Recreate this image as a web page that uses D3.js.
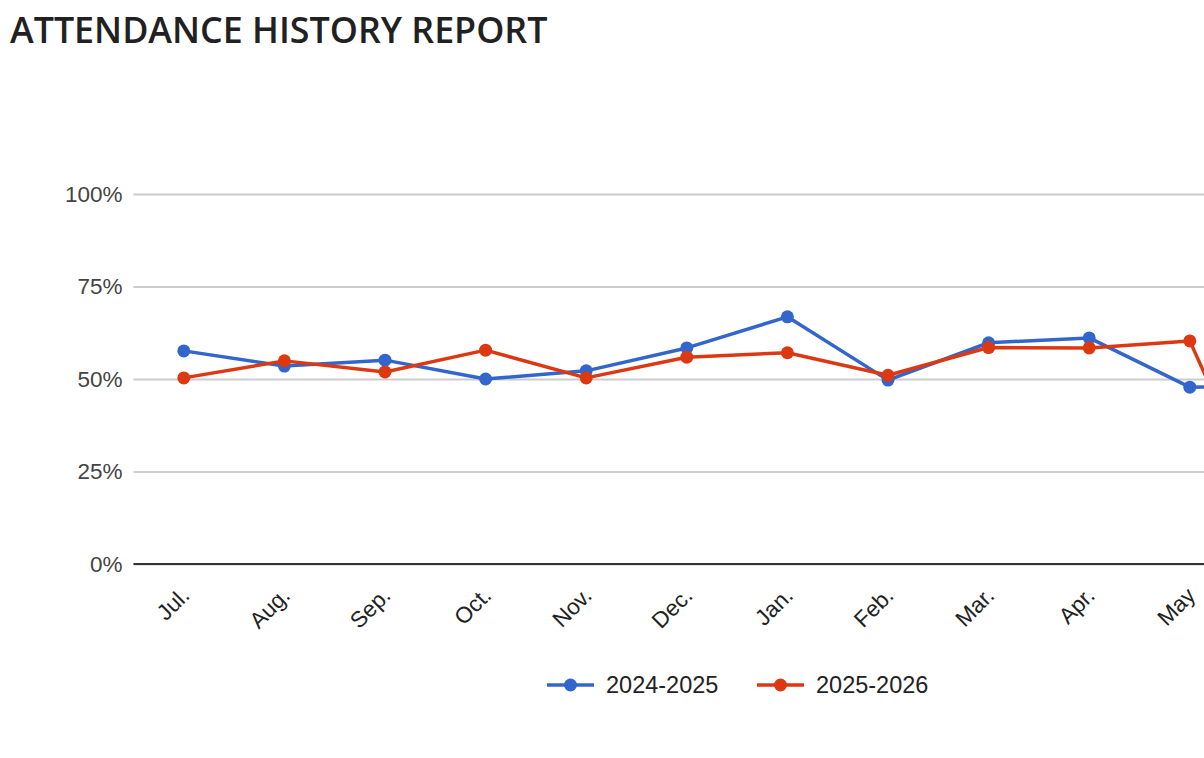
<!DOCTYPE html>
<html>
<head>
<meta charset="utf-8">
<script src="https://cdn.jsdelivr.net/npm/d3@7"></script>
<style>
  body { margin: 0; background: #fff; overflow: hidden; }
  svg { display: block; }
</style>
</head>
<body>
<svg width="1204" height="758"></svg>
<script>
// data (percent)
var months = ["Jul.", "Aug.", "Sep.", "Oct.", "Nov.", "Dec.", "Jan.", "Feb.", "Mar.", "Apr.", "May", "Jun."];
var seriesNames = ["2024-2025", "2025-2026"];
var values2425 = [57.6, 53.5, 55.1, 50.0, 52.2, 58.4, 66.8, 49.7, 59.8, 61.1, 47.8, 48.0];
var values2526 = [50.3, 54.9, 51.9, 57.8, 50.3, 55.9, 57.1, 51.0, 58.5, 58.4, 60.3, 0];
var yTicks = [0, 25, 50, 75, 100];
var colors = ["#3366cc", "#dc3912"];

var svg = d3.select("svg");

// chart area - runs past the right edge of the window like the original
var chartLeft = 133.5, chartTop = 194, chartBottom = 564,
    bandW = 100.6,
    chartRight = chartLeft + bandW * months.length;

var x = d3.scaleBand().domain(months).range([chartLeft, chartRight]);
var y = d3.scaleLinear().domain([0, 100]).range([chartBottom, chartTop]);

svg.append("text")
   .attr("x", 10)
   .attr("y", 43)
   .attr("font-family", "'Open Sans', sans-serif")
   .attr("font-weight", 600)
   .attr("font-size", 35.8)
   .attr("fill", "#212121")
   .text("ATTENDANCE HISTORY REPORT");

// gridlines + y labels
var yAxis = svg.append("g")
   .attr("transform", "translate(" + chartLeft + ",0)")
   .call(d3.axisLeft(y).tickValues(yTicks).tickSize(-(chartRight - chartLeft)).tickPadding(11)
           .tickFormat(function(d) { return d + "%"; }));
yAxis.select(".domain").remove();
yAxis.selectAll(".tick line").attr("stroke", "#cccccc").attr("stroke-width", 2);
yAxis.selectAll(".tick text")
     .attr("font-family", "Arial, 'Liberation Sans', sans-serif")
     .attr("font-size", 22.5)
     .attr("fill", "#444444");

// baseline
svg.append("line")
   .attr("x1", chartLeft).attr("x2", chartRight)
   .attr("y1", y(0)).attr("y2", y(0))
   .attr("stroke", "#333333").attr("stroke-width", 2);

// x labels rotated
svg.append("g").selectAll("text")
   .data(months)
   .enter().append("text")
   .attr("transform", function(d) {
       var cx = x(d) + x.bandwidth() / 2 + 7;
       return "translate(" + cx + "," + 597 + ") rotate(-45)";
   })
   .attr("text-anchor", "end")
   .attr("font-family", "Arial, 'Liberation Sans', sans-serif")
   .attr("font-size", 22.5)
   .attr("fill", "#222222")
   .text(function(d) { return d; });

var line = d3.line()
   .x(function(d, i) { return x(months[i]) + x.bandwidth() / 2; })
   .y(function(d) { return y(d); });

[values2425, values2526].forEach(function(vals, k) {
    svg.append("path")
       .datum(vals)
       .attr("d", line)
       .attr("fill", "none")
       .attr("stroke", colors[k])
       .attr("stroke-width", 3.5)
       .attr("stroke-linejoin", "round");
    svg.append("g").selectAll("circle")
       .data(vals)
       .enter().append("circle")
       .attr("cx", function(d, i) { return x(months[i]) + x.bandwidth() / 2; })
       .attr("cy", function(d) { return y(d); })
       .attr("r", 6.5)
       .attr("fill", colors[k]);
});

// legend
var legend = svg.append("g").selectAll("g")
   .data(seriesNames)
   .enter().append("g")
   .attr("transform", function(d, i) { return "translate(" + (547 + i * 210) + ",685)"; });
legend.append("line")
   .attr("x1", 0).attr("x2", 47)
   .attr("stroke", function(d, i) { return colors[i]; })
   .attr("stroke-width", 3.5);
legend.append("circle")
   .attr("cx", 23.5).attr("r", 6.5)
   .attr("fill", function(d, i) { return colors[i]; });
legend.append("text")
   .attr("x", 59).attr("y", 8)
   .attr("font-family", "Arial, 'Liberation Sans', sans-serif")
   .attr("font-size", 23.5)
   .attr("fill", "#222222")
   .text(function(d) { return d; });
</script>
</body>
</html>
